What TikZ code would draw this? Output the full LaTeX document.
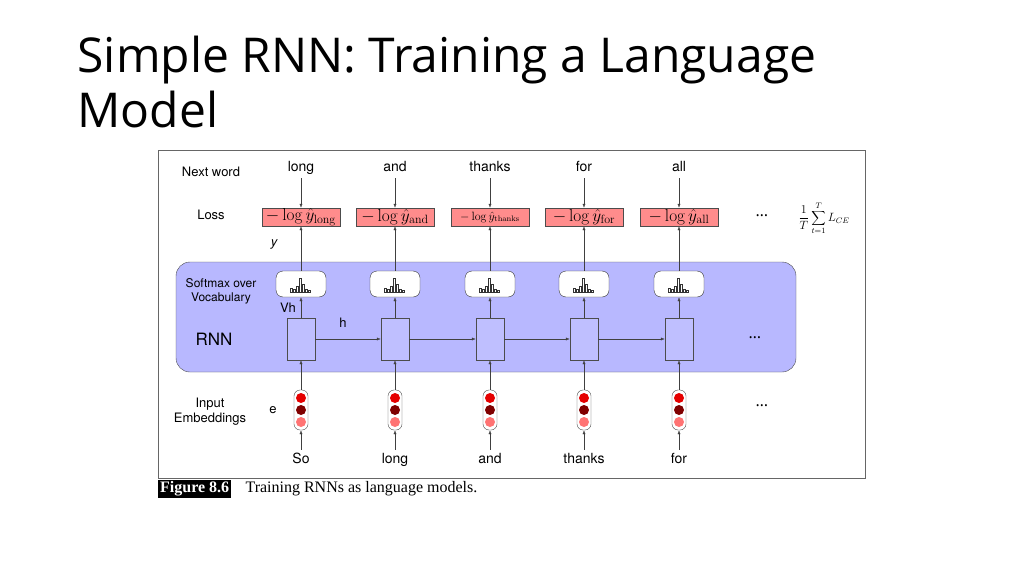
\documentclass[tikz,border=0pt]{standalone}
\usepackage[no-math]{fontspec}
\setmainfont{Open Sans}
\newfontfamily\helv{TeX Gyre Heros}
\newfontfamily\capfont{Liberation Serif}
\usetikzlibrary{positioning,arrows.meta}
\tikzset{
  lbl/.style={font=\helv\fontsize{13}{15}\selectfont},
  word/.style={font=\helv\fontsize{14}{16}\selectfont,text height=10pt,text depth=3pt},
  loss/.style={draw=black!70,fill=red!45,minimum width=78pt,minimum height=18pt,inner sep=0pt},
  soft/.style={draw=black!80,fill=white,rounded corners=7pt,minimum width=50pt,minimum height=26pt},
  cell/.style={draw=black!70,fill=blue!25,minimum width=28pt,minimum height=42pt},
  emb/.style={draw=black!70,fill=white,rounded corners=6pt,minimum width=14pt,minimum height=40pt},
  arr/.style={-{Latex[length=4pt,width=3pt]},black!75}
}
\begin{document}
\begin{tikzpicture}[x=1pt,y=-1pt]
\useasboundingbox (0,0) rectangle (1024,575);
\node[anchor=west,font=\fontsize{48}{52}\selectfont] (title1) at (74,60) {Simple RNN: Training a Language};
\node[anchor=west,font=\fontsize{48}{52}\selectfont] (title2) at (74,110) {Model};
\draw[black!60,line width=1pt] (158,150) rectangle (865,478);
\draw[black!70,fill=blue!28,rounded corners=14pt] (176,262) rectangle (796,372);
% row labels
\node[lbl] (lnext) at (211,172) {Next word};
\node[lbl] (lloss) at (211,215) {Loss};
\node[lbl,font=\helv\itshape\fontsize{13}{15}\selectfont] (ly) at (274,245) {y};
\node[lbl,align=center,font=\helv\fontsize{12}{14}\selectfont] (lsoft) at (221,291) {Softmax over\\Vocabulary};
\node[lbl] (lvh) at (288,308) {Vh};
\node[lbl] (lh) at (343,323) {h};
\node[lbl,font=\helv\fontsize{17}{19}\selectfont] (lrnn) at (214,339) {RNN};
\node[lbl,align=center] (linput) at (210,412) {Input\\Embeddings};
\node[lbl] (le) at (273,410) {e};
% columns
\foreach \i/\x/\nxt/\inp/\sub/\fs in {1/301/long/So/long/16.5,2/395/and/long/and/16.5,3/490/thanks/and/thanks/12,4/584/for/thanks/for/16.5,5/679/all/for/all/16.5}{
  \node[word] (nw\i) at (\x,168) {\nxt};
  \node[loss,font=\fontsize{\fs}{16}\selectfont] (ls\i) at (\x,217) {$-\log\hat{y}_{\mathrm{\sub}}$};
  \node[soft] (sm\i) at (\x,284) {};
  \foreach \dx/\h in {-8/4,-5/3,-2/6,1/14,4/8,7/3,10/2}
    \draw[black!80,line width=0.5pt] (\x+\dx-3,292) rectangle (\x+\dx-1,292-\h);
  \node[cell] (rn\i) at (\x,339) {};
  \node[emb] (em\i) at (\x,410) {};
  \fill[red!90!black] (\x,398) circle (5pt);
  \fill[red!50!black] (\x,410) circle (5pt);
  \fill[red!55] (\x,422) circle (5pt);
  \node[word] (iw\i) at (\x,460) {\inp};
  \draw[arr] (nw\i) -- (ls\i);
  \draw[arr] (sm\i) -- (ls\i);
  \draw[arr] (rn\i) -- (sm\i);
  \draw[arr] (em\i) -- (rn\i);
  \draw[arr] (iw\i) -- (em\i);
}
\foreach \i/\j in {1/2,2/3,3/4,4/5}
  \draw[arr] (rn\i) -- (rn\j);
\node[font=\fontsize{16}{16}\selectfont] (dl) at (762,216) {\dots};
\node[font=\fontsize{16}{16}\selectfont] (dr) at (755,338) {\dots};
\node[font=\fontsize{16}{16}\selectfont] (de) at (762,406) {\dots};
\node[font=\fontsize{12}{14}\selectfont] (sum) at (824,218) {$\displaystyle\frac{1}{T}\sum_{t=1}^{T} L_{CE}$};
\node[anchor=west,fill=black,text=white,font=\capfont\bfseries\fontsize{16}{18}\selectfont,inner sep=2pt] (figno) at (158,489) {Figure 8.6};
\node[anchor=west,font=\capfont\fontsize{16}{18}\selectfont] (cap) at (242,489) {Training RNNs as language models.};
\end{tikzpicture}
\end{document}
